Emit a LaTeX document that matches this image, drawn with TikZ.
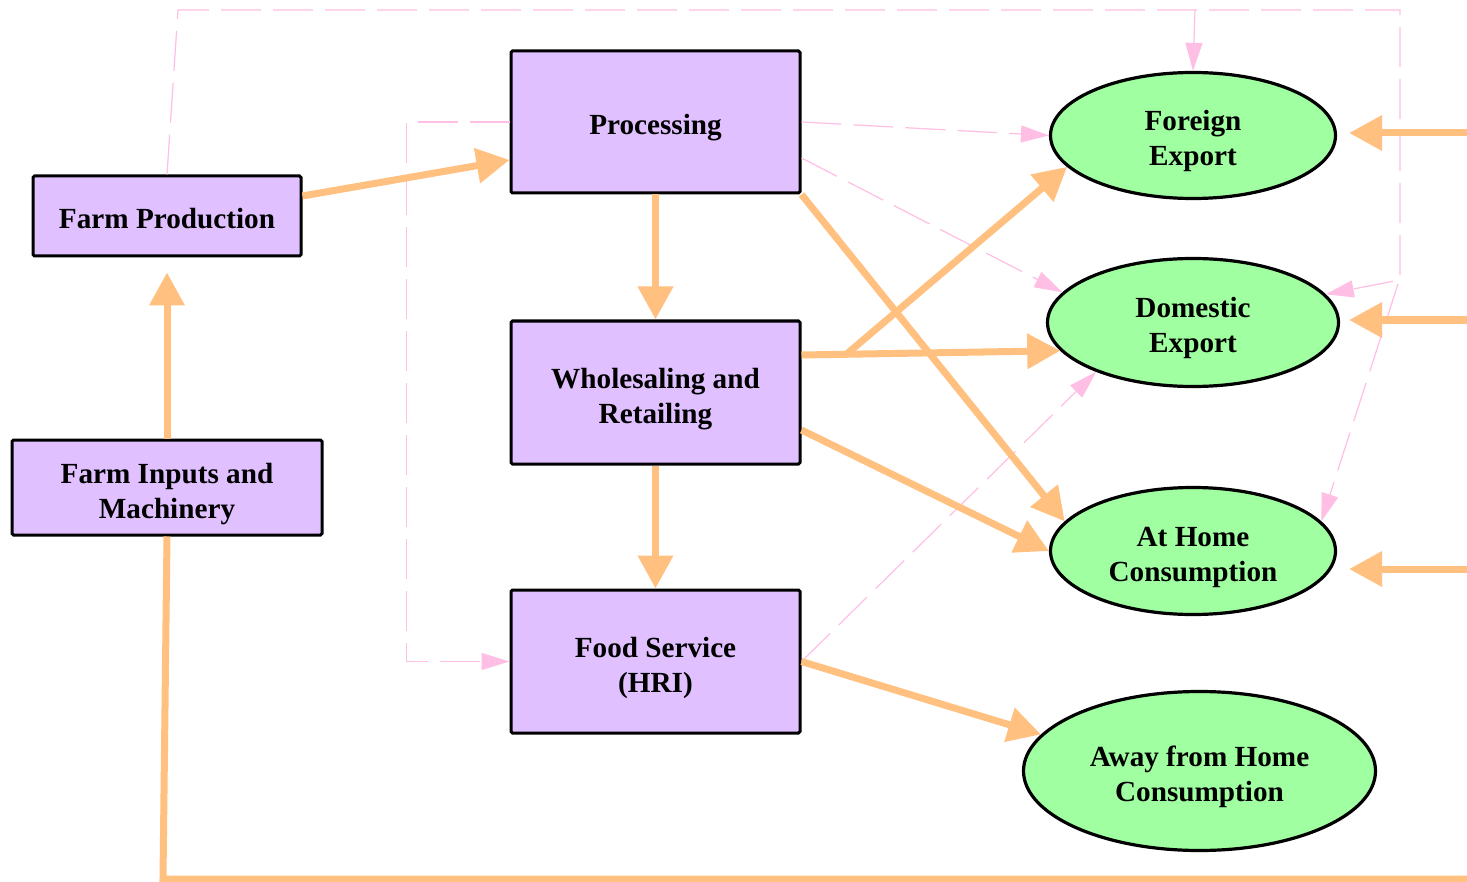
\documentclass[tikz,border=0pt]{standalone}
\usepackage{fontspec}
\setmainfont{Liberation Serif}
\usetikzlibrary{arrows.meta,shapes.geometric,calc}
\definecolor{boxfill}{RGB}{224,192,255}
\definecolor{ellfill}{RGB}{160,255,160}
\definecolor{flow}{RGB}{255,192,128}
\definecolor{link}{RGB}{255,190,228}
\newcommand{\lblfont}{\bfseries\fontsize{14.6}{17.5}\selectfont}
\newcommand{\tx}[1]{\raisebox{-3pt}[\height][\depth]{\begin{tabular}{@{}c@{}}#1\end{tabular}}}
\begin{document}
\begin{tikzpicture}[x=0.5pt,y=-0.5pt,
  box/.style={draw=black, line width=1.5pt, fill=boxfill, rectangle, rounded corners=0.8pt,
    minimum width=144.5pt, minimum height=71pt, inner sep=2pt, font=\lblfont},
  ell/.style={draw=black, line width=1.6pt, fill=ellfill, ellipse, inner sep=0pt, font=\lblfont},
  flowarr/.style={draw=flow, line width=3.5pt, -{Triangle[length=16.5pt,width=17pt]}},
  flowline/.style={draw=flow, line width=3.5pt},
  linkarr/.style={draw=link, line width=0.6pt, dash pattern=on 20pt off 6pt, -{Triangle[length=14pt,width=8.5pt]}},
  linkline/.style={draw=link, line width=0.6pt, dash pattern=on 20pt off 6pt},
]
\useasboundingbox (0,0) rectangle (1467,882);

% nodes
\node[box, minimum width=134pt, minimum height=40pt] (fp) at (167,216) {\tx{Farm Production}};
\node[box, minimum width=155pt, minimum height=47.5pt] (fi) at (167,487.5) {\tx{Farm Inputs and\\Machinery}};
\node[box] (proc) at (655.5,122) {\tx{Processing}};
\node[box, minimum height=71.5pt] (whl) at (655.5,392.5) {\tx{Wholesaling and\\Retailing}};
\node[box, minimum height=71.5pt] (fs) at (655.5,661.5) {\tx{Food Service\\(HRI)}};
\node[ell, minimum width=142.5pt, minimum height=63pt] (fe) at (1193,135.5) {\tx{Foreign\\Export}};
\node[ell, minimum width=145.5pt, minimum height=64pt] (dom) at (1193,322.5) {\tx{Domestic\\Export}};
\node[ell, minimum width=142.5pt, minimum height=63.5pt] (ah) at (1193,551) {\tx{At Home\\Consumption}};
\node[ell, minimum width=176pt, minimum height=79.5pt] (away) at (1199.5,771) {\tx{Away from Home\\Consumption}};

% helper coordinates
\coordinate (tl) at (178,10);
\coordinate (tr) at (1400,10);
\coordinate (rc) at (1400,280);
\coordinate (tb) at (1195,10);
\coordinate (rb) at (1398,284);
\coordinate (bl) at (163,879);
\coordinate (br) at (1480,879);
\coordinate (rfe) at (1480,133);
\coordinate (rdom) at (1480,320);
\coordinate (rah) at (1480,569);

% dashed pink links
\draw[linkarr] (fp.north) -- (tl) -- (tr) -- (rc) -- (dom.12);
\draw[linkarr] (tb) -- (fe.north);
\draw[linkarr] (rb) -- (ah.13);
\draw[linkarr] (proc.west) -- ++(-103,0) |- (fs.west);
\draw[linkarr] (proc.east) -- (fe.west);
\draw[linkarr] ([yshift=-18pt]proc.east) -- (dom.167);
\draw[linkarr] (fs.east) -- (dom.207);

% orange flows
\draw[flowarr] ([yshift=10pt]fp.east) -- ([yshift=-19pt]proc.west);
\draw[flowarr, shorten >=7.5pt] (fi.north) -- (fp.south);
\draw[flowline] (fi.south) -- (bl) -- (br);
\draw[flowarr] (proc.south) -- (whl.north);
\draw[flowarr] (proc.south east) -- (ah.167);
\draw[flowarr] ([yshift=18.75pt]whl.east) -- (dom.192);
\draw[flowarr] ([xshift=22pt,yshift=18.75pt]whl.east) -- (fe.194);
\draw[flowarr] ([yshift=-18.75pt]whl.east) -- (ah.west);
\draw[flowarr] (whl.south) -- (fs.north);
\draw[flowarr] (fs.east) -- (away.167);
\draw[flowarr, shorten >=6pt] (rfe) -- ([yshift=1.25pt]fe.east);
\draw[flowarr, shorten >=4.5pt] (rdom) -- ([yshift=1.25pt]dom.east);
\draw[flowarr, shorten >=6pt] (rah) -- ([yshift=-9pt]ah.east);
\end{tikzpicture}
\end{document}
